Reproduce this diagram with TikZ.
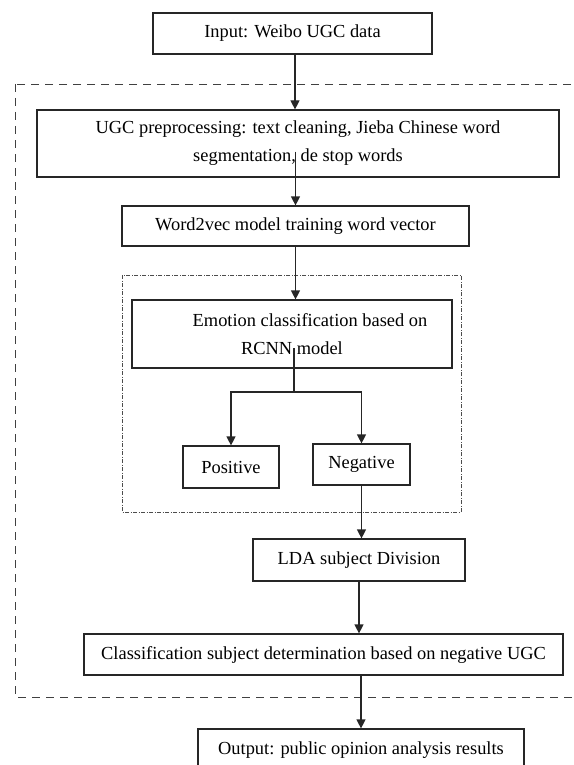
\documentclass[tikz,border=0pt]{standalone}
\usepackage{fontspec}
\setmainfont{Liberation Serif}
\usetikzlibrary{arrows.meta,calc}
\begin{document}
\begin{tikzpicture}[x=1pt,y=-1pt,
  box/.style={draw=black!85, line width=1.2pt, rectangle, inner sep=0pt, align=center,
    font=\fontsize{18.4}{28}\selectfont},
  arr/.style={line width=1.2pt, black!85, -{Triangle[width=9pt,length=9pt]}},
  ln/.style={line width=1.2pt, black!85},
  outerframe/.style={line width=0.9pt, black!75, dash pattern=on 8pt off 6pt},
  innerframe/.style={line width=0.7pt, black!70, dash pattern=on 4pt off 1.5pt on 1pt off 1.5pt}]
\useasboundingbox (0,0) rectangle (573,765);
% frames
\draw[outerframe] (15,84) rectangle (590,697);
\draw[innerframe] (122,275) rectangle (461,512);
% nodes
\node[box, minimum width=279pt, minimum height=41pt] (in) at (292.5,33.5) {Input: Weibo UGC data};
\node[box, minimum width=522pt, minimum height=67pt] (pre) at (298,143.5)
  {UGC preprocessing: text cleaning, Jieba Chinese word\\segmentation, de stop words};
\node[box, minimum width=347pt, minimum height=40pt] (w2v) at (295.5,226) {Word2vec model training word vector};
\node[box, minimum width=320pt, minimum height=68pt] (emo) at (292,334)
  {\hspace*{36pt}Emotion classification based on\\RCNN model};
\node[box, minimum width=96pt, minimum height=42pt] (pos) at (231,467) {Positive};
\node[box, minimum width=97pt, minimum height=41pt] (neg) at (361.5,464.5) {Negative};
\node[box, minimum width=212pt, minimum height=42pt] (lda) at (359,560) {LDA subject Division};
\node[box, minimum width=479pt, minimum height=41pt] (cls) at (323.5,654.5)
  {Classification subject determination based on negative UGC};
\node[box, minimum width=326pt, minimum height=42pt] (out) at (361,750) {Output: public opinion analysis results};
% connectors
\coordinate (instart) at ($(in.south)+(2.5,0)$);
\draw[arr] (instart) -- (instart |- pre.north);
\coordinate (prestart) at ($(pre.center)+(-2.5,8)$);
\draw[arr] (prestart) -- (prestart |- w2v.north);
\draw[arr] (w2v.south) -- (w2v.south |- emo.north);
\coordinate (emostart) at ($(emo.center)+(2,14)$);
\coordinate (fork) at ($(emo.center)+(2,58)$);
\draw[ln] (emostart) -- (fork);
\draw[arr] (fork) -| (pos.north);
\draw[arr] (fork) -| (neg.north);
\draw[arr] (neg.south) -- (neg.south |- lda.north);
\draw[arr] (lda.south) -- (lda.south |- cls.north);
\draw[arr] (out.north |- cls.south) -- (out.north);
\end{tikzpicture}
\end{document}
